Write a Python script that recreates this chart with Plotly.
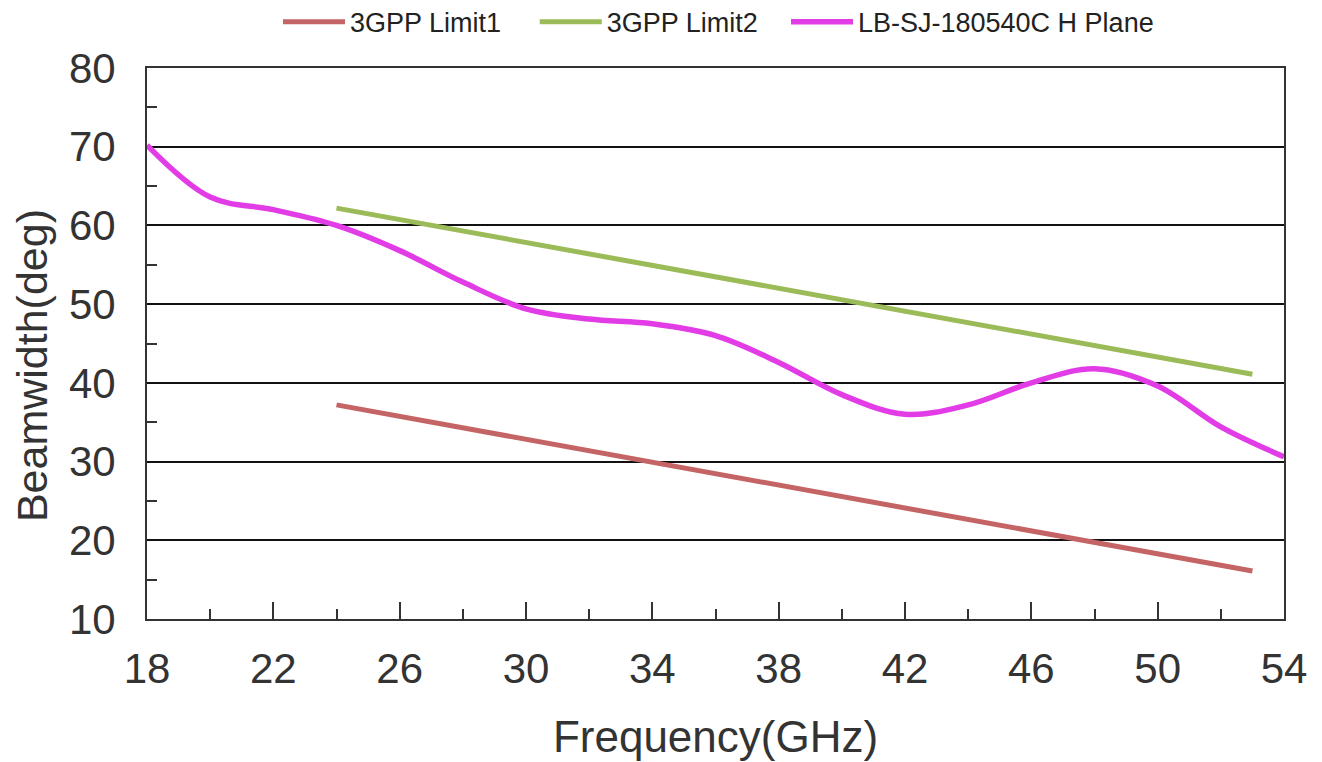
import plotly.graph_objects as go

# Data
limit1_freq = [24, 53]
limit1_bw = [37.2, 16.1]
limit2_freq = [24, 53]
limit2_bw = [62.2, 41.1]
hplane_freq = [18, 20, 22, 24, 26, 28, 30, 32, 34, 36, 38, 40, 42, 44, 46, 48, 50, 52, 54]
hplane_bw = [70.2, 63.6, 62.0, 60.0, 56.8, 52.8, 49.4, 48.1, 47.5, 46.0, 42.6, 38.5, 36.0, 37.2, 40.0, 41.8, 39.6, 34.4, 30.6]

FONT = "Liberation Sans, Arial, sans-serif"

fig = go.Figure()
fig.add_trace(go.Scatter(x=limit1_freq, y=limit1_bw, mode="lines", name="3GPP Limit1",
                         line=dict(color="#c46464", width=5), legend="legend"))
fig.add_trace(go.Scatter(x=limit2_freq, y=limit2_bw, mode="lines", name="3GPP Limit2",
                         line=dict(color="#9bbb59", width=5), legend="legend2"))
fig.add_trace(go.Scatter(x=hplane_freq, y=hplane_bw, mode="lines", name="LB-SJ-180540C H Plane",
                         line=dict(color="#e23ce6", width=5.5, shape="spline", smoothing=1.0),
                         legend="legend3"))

leg_common = dict(orientation="h", xanchor="left", y=1.083, yanchor="middle",
                  font=dict(size=27, color="#222222"), itemwidth=62,
                  bgcolor="rgba(0,0,0,0)")

fig.update_layout(
    width=1322, height=762,
    margin=dict(l=139, r=46, t=60, b=151, autoexpand=False),
    paper_bgcolor="white", plot_bgcolor="white",
    font=dict(family=FONT, color="#333333"),
    showlegend=True,
    legend=dict(x=0.1152, **leg_common),
    legend2=dict(x=0.3410, **leg_common),
    legend3=dict(x=0.5620, **leg_common),
    xaxis=dict(
        range=[18, 54], dtick=4, tick0=18,
        showgrid=False, zeroline=False,
        showline=True, linecolor="#333333", linewidth=2, mirror=True,
        ticks="inside", ticklen=17, tickwidth=1.5, tickcolor="#333333",
        minor=dict(ticks="inside", ticklen=10, dtick=2, tickwidth=1.5, tickcolor="#333333", showgrid=False),
        tickfont=dict(size=42, color="#333333"),
        ticklabelstandoff=12,
        title=dict(text="Frequency(GHz)", font=dict(size=44, color="#333333"), standoff=30),
    ),
    yaxis=dict(
        range=[10, 80], dtick=10, tick0=10,
        showgrid=True, gridcolor="#111111", gridwidth=1.5, zeroline=False,
        showline=True, linecolor="#333333", linewidth=2, mirror=True,
        ticks="inside", ticklen=0,
        minor=dict(ticks="inside", ticklen=10, dtick=5, tickwidth=1.5, tickcolor="#333333", showgrid=False),
        tickfont=dict(size=42, color="#333333"),
        ticklabelstandoff=21,
    ),
    annotations=[dict(text="Beamwidth(deg)", textangle=-90, xref="paper", yref="paper",
                      x=0, y=0.459, xanchor="center", yanchor="middle", xshift=-115,
                      showarrow=False, font=dict(size=43, color="#333333"))],
)

fig.write_html("out.html")
